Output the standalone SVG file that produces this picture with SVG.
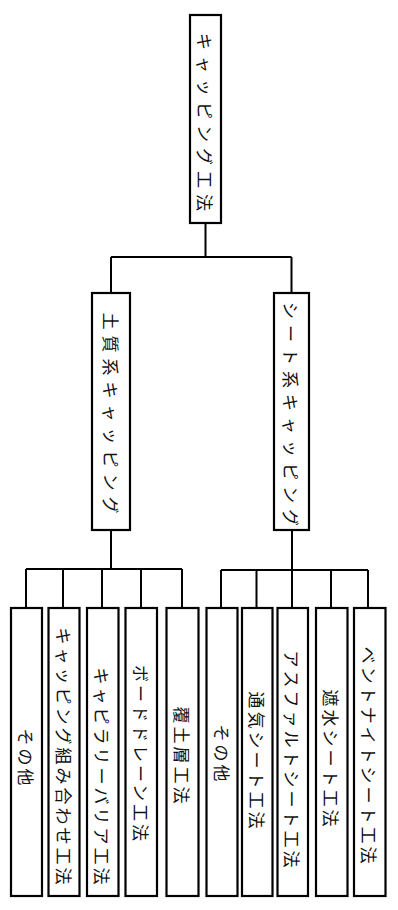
<svg xmlns="http://www.w3.org/2000/svg" width="398" height="910" viewBox="0 0 398 910">
<style>
.box{fill:#fff;stroke:#000;stroke-width:2.2}
.ln{fill:none;stroke:#000;stroke-width:2}
.t{font-family:"Noto Sans CJK JP","Noto Sans CJK SC",sans-serif;font-size:17px;fill:#111;text-anchor:middle;dominant-baseline:central}
.big{letter-spacing:6px}
.sm{letter-spacing:3px}
</style>
<rect width="398" height="910" fill="#fff"/>
<g id="connectors">
<path class="ln" d="M205.5 223V257M111 257H291.5M111 257V293M291.5 257V293"/>
<path class="ln" d="M111 530V569M26 569H182M26 569V608M63 569V608M102 569V608M141 569V608M182 569V608"/>
<path class="ln" d="M292 530V570M221 570H368M221 570V609M256.5 570V609M292 570V609M331 570V609M368 570V609"/>
</g>
<g id="root"><rect class="box" x="190" y="15" width="31" height="208"/><text class="t big" transform="translate(205.5,125) rotate(90)">キャッピング工法</text></g>
<g id="soil"><rect class="box" x="92" y="293" width="38" height="237"/><text class="t big" transform="translate(111,416) rotate(90)">土質系キャッピング</text></g>
<g id="sheet"><rect class="box" x="274" y="293" width="35" height="237"/><text class="t big" transform="translate(291.5,417) rotate(90)">シート系キャッピング</text></g>
<g id="soil-other"><rect class="box" x="11" y="608" width="31" height="288"/><text class="t sm" transform="translate(26.5,758.5) rotate(90)">その他</text></g>
<g id="soil-combo"><rect class="box" x="48.5" y="608" width="31" height="288"/><text class="t sm" transform="translate(64,757.5) rotate(90)">キャッピング組み合わせ工法</text></g>
<g id="soil-capillary"><rect class="box" x="87" y="608" width="31.5" height="288"/><text class="t sm" transform="translate(102.7,777.5) rotate(90)">キャピラリーバリア工法</text></g>
<g id="soil-drain"><rect class="box" x="125.5" y="608" width="31.5" height="288"/><text class="t sm" transform="translate(141.2,754.5) rotate(90)">ボードドレーン工法</text></g>
<g id="soil-cover"><rect class="box" x="166.5" y="608" width="32" height="288"/><text class="t sm" transform="translate(182.5,756.5) rotate(90)">覆土層工法</text></g>
<g id="sheet-other"><rect class="box" x="206.5" y="608" width="31" height="288"/><text class="t sm" transform="translate(222,754.5) rotate(90)">その他</text></g>
<g id="sheet-vent"><rect class="box" x="242" y="608" width="30.5" height="288"/><text class="t sm" transform="translate(257.2,761.5) rotate(90)">通気シート工法</text></g>
<g id="sheet-asphalt"><rect class="box" x="277.5" y="608" width="30.5" height="288"/><text class="t sm" transform="translate(292.7,760.5) rotate(90)">アスファルトシート工法</text></g>
<g id="sheet-water"><rect class="box" x="316" y="608" width="31.5" height="288"/><text class="t sm" transform="translate(331.7,759.5) rotate(90)">遮水シート工法</text></g>
<g id="sheet-bentonite"><rect class="box" x="354" y="608" width="31.5" height="288"/><text class="t sm" transform="translate(369.7,756.5) rotate(90)">ベントナイトシート工法</text></g>
</svg>
